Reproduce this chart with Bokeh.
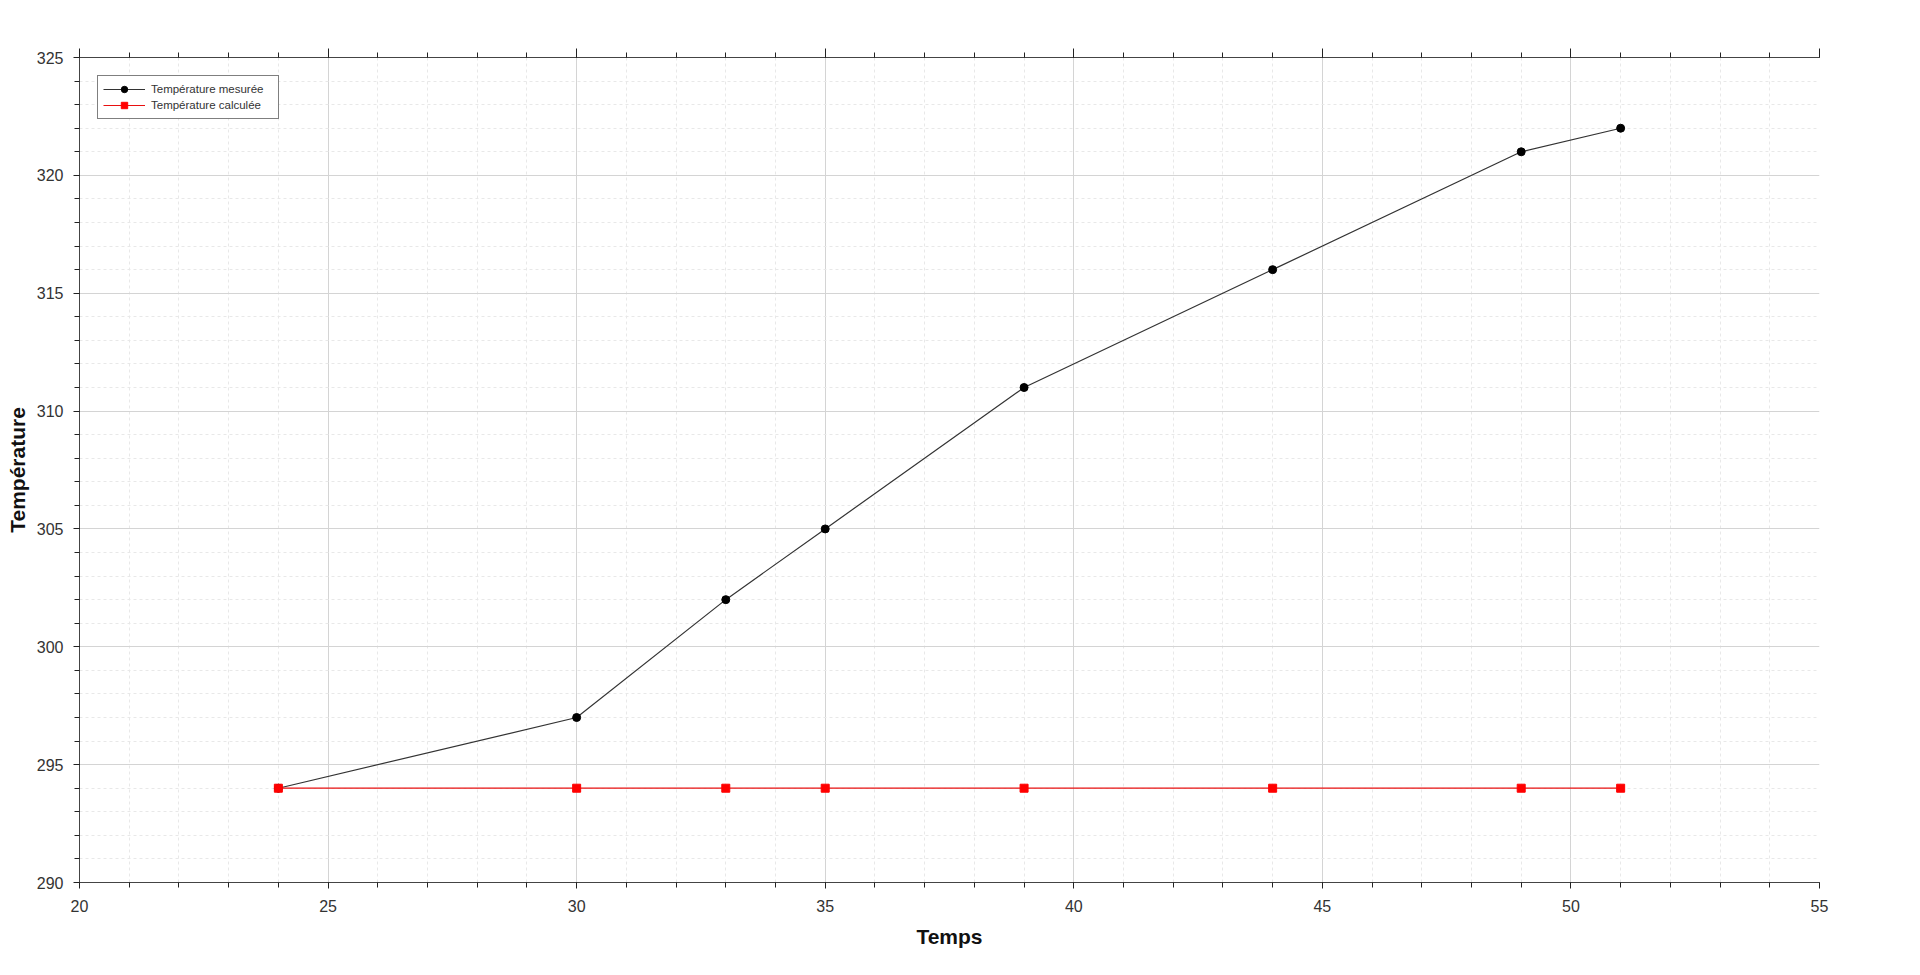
from bokeh.plotting import figure
from bokeh.models import Range1d, LinearAxis, SingleIntervalTicker, Legend, LegendItem
from bokeh.embed import file_html
from bokeh.resources import INLINE

temps = [24, 30, 33, 35, 39, 44, 49, 51]
temp_mesuree = [294, 297, 302, 305, 311, 316, 321, 322]
temp_calculee = [294, 294, 294, 294, 294, 294, 294, 294]

FONT = "Liberation Sans"

p = figure(width=1904, height=955, output_backend="svg", toolbar_location=None,
           x_range=Range1d(20, 55), y_range=Range1d(290, 325),
           min_border_left=79, min_border_top=57, min_border_right=85, min_border_bottom=73)
p.outline_line_color = None
p.background_fill_color = "white"

xt = SingleIntervalTicker(interval=5, num_minor_ticks=5)
yt = SingleIntervalTicker(interval=5, num_minor_ticks=5)
p.xaxis.ticker = xt
p.yaxis.ticker = yt

for ax in (p.xaxis[0], p.yaxis[0]):
    ax.axis_line_color = "#444444"
    ax.major_tick_line_color = "#222222"
    ax.minor_tick_line_color = "#222222"
    ax.major_tick_out = 6
    ax.major_tick_in = 0
    ax.minor_tick_out = 5
    ax.minor_tick_in = 0
    ax.major_label_text_font = FONT
    ax.major_label_text_font_size = "16px"
    ax.major_label_text_color = "#333333"
    ax.axis_label_text_font = FONT
    ax.axis_label_text_font_size = "21px"
    ax.axis_label_text_font_style = "bold"
    ax.axis_label_text_color = "#111111"

p.xaxis.axis_label = "Temps"
p.yaxis.axis_label = "Température"
p.xaxis.major_label_standoff = 11
p.xaxis.axis_label_standoff = 10
p.yaxis.major_label_standoff = 10
p.yaxis.axis_label_standoff = 5

top = LinearAxis(ticker=SingleIntervalTicker(interval=5, num_minor_ticks=5))
top.axis_line_color = "#444444"
top.major_tick_line_color = "#222222"
top.minor_tick_line_color = "#222222"
top.major_tick_out = 9
top.major_tick_in = 0
top.minor_tick_out = 5
top.minor_tick_in = 0
top.major_label_text_font_size = "0px"
top.major_label_text_color = None
p.add_layout(top, "above")

for g in (p.xgrid[0], p.ygrid[0]):
    g.grid_line_color = "#d4d4d4"
    g.grid_line_width = 1
    g.minor_grid_line_color = "#e8e8e8"
    g.minor_grid_line_dash = "3 3"
    g.minor_grid_line_width = 1

l1 = p.line(temps, temp_mesuree, line_color="#333333", line_width=1.2)
m1 = p.scatter(temps, temp_mesuree, marker="circle", size=8, fill_color="black", line_color="black")
l2 = p.line(temps, temp_calculee, line_color="#e81010", line_width=1.2)
m2 = p.scatter(temps, temp_calculee, marker="square", size=8, fill_color="#ff0000", line_color="#ff0000")

legend = Legend(items=[
    LegendItem(label="Température mesurée", renderers=[l1, m1]),
    LegendItem(label="Température calculée", renderers=[l2, m2]),
], location="top_left")
legend.margin = 18
legend.padding = 5
legend.spacing = 0
legend.glyph_width = 42
legend.glyph_height = 16
legend.label_height = 16
legend.label_width = 122
legend.label_standoff = 6
legend.label_text_font = FONT
legend.label_text_font_size = "11.5px"
legend.label_text_color = "#333333"
legend.border_line_color = "black"
legend.border_line_width = 1
legend.background_fill_alpha = 1
p.add_layout(legend)

open("out.html", "w").write(file_html(p, INLINE))
